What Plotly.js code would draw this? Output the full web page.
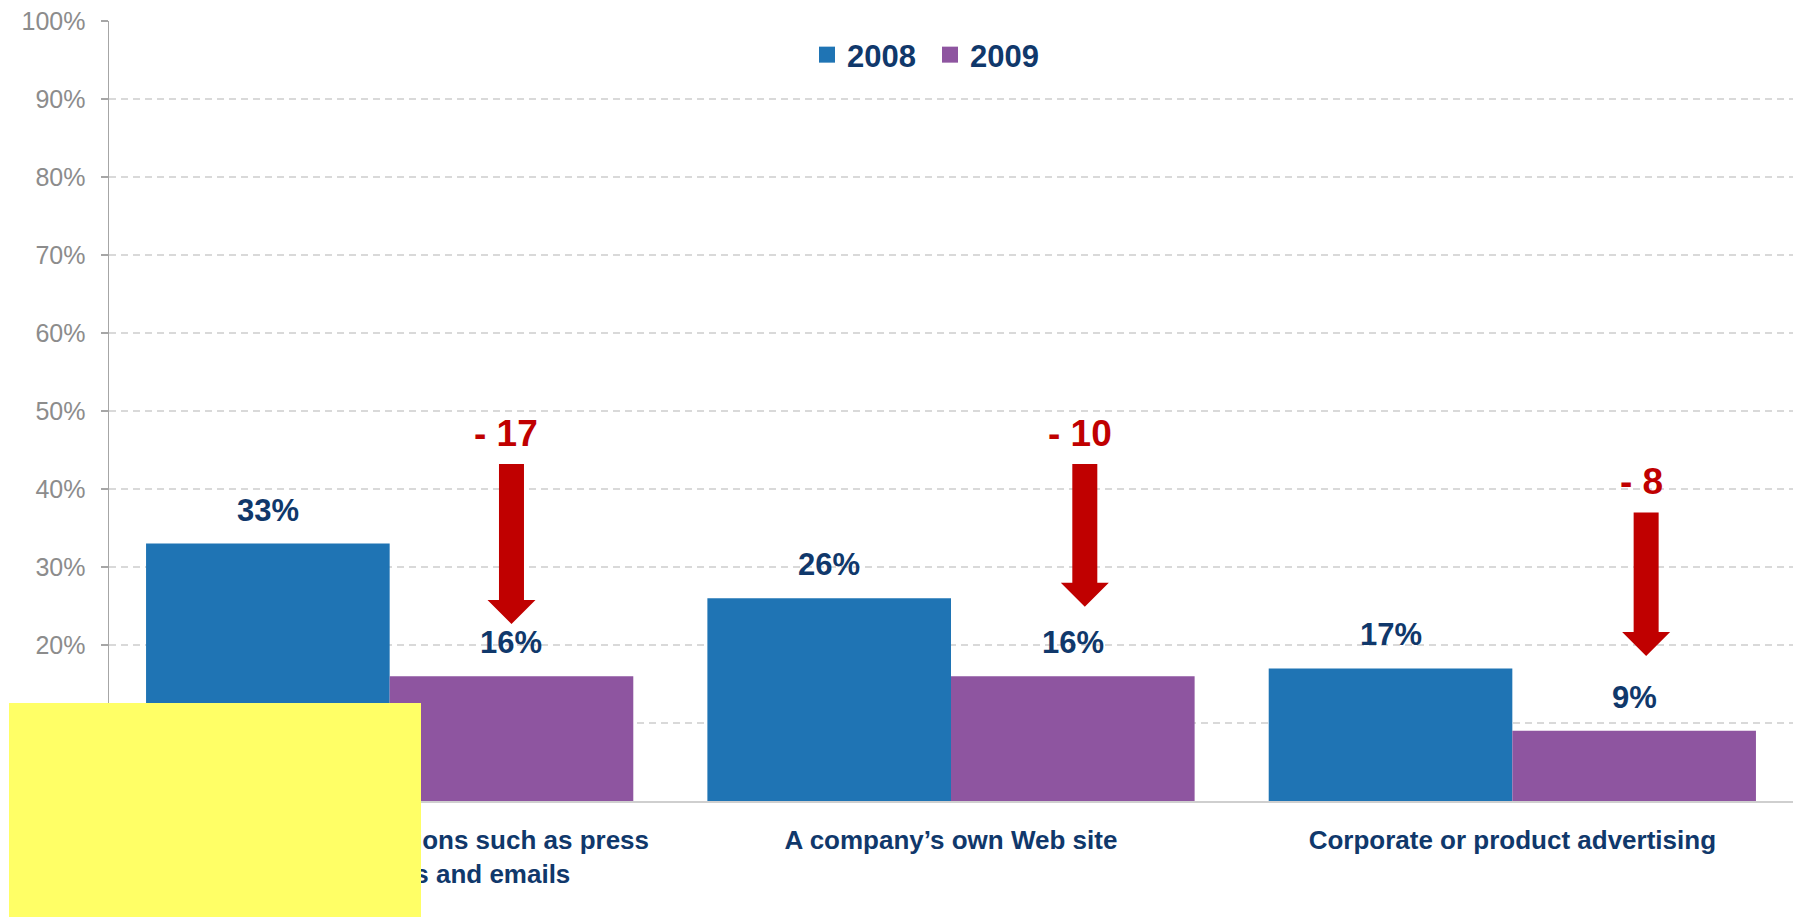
<!DOCTYPE html>
<html><head><meta charset="utf-8">
<script src="https://cdn.plot.ly/plotly-3.0.1.min.js"></script>
<style>
html,body{margin:0;padding:0;background:#fff;}
#chart{position:absolute;left:0;top:0;width:1802px;height:917px;}
#mask{position:absolute;left:9px;top:703px;width:412px;height:214px;background:#ffff66;}
</style>
</head><body>
<div id="chart"></div>
<div id="mask"></div>
<script>
// ---------- data ----------
const categories = [
  'Corporate communications such as press<br>' + '\u00a0'.repeat(16) + 'releases and emails',
  'A company\u2019s own Web site',
  'Corporate or product advertising'
];
const seriesNames = ['2008', '2009'];
const values2008 = [33, 26, 17];
const values2009 = [16, 16, 9];
const yTickValues = [0, 10, 20, 30, 40, 50, 60, 70, 80, 90, 100];
const yTickLabels = yTickValues.map(v => v + '%');

// ---------- annotation placement (in % of the y axis) ----------
const arrowTopPct = [43.2, 43.2, 37.0];
const arrowTipPct = [22.7, 24.9, 18.6];
const arrowDxPx = [0, 12, 12];

// ---------- styles / layout constants ----------
const W = 1802, H = 917;
const M = {l: 109, r: 9, t: 21, b: 116};
const FONT = 'Liberation Sans, Arial, sans-serif';
const NAVY = '#10386b';
const RED = '#c00000';
const COLORS = ['#1f74b4', '#8e55a0'];
const BARGAP = 0.132;

const plotW = W - M.l - M.r, plotH = H - M.t - M.b;
const pxPerX = plotW / categories.length;
const pxPerY = plotH / 100;
const barW = (1 - BARGAP) / 2;
const offsets = [-barW / 2, barW / 2];
const xIdx = categories.map((c, i) => i);
const series = [values2008, values2009];

const traces = series.map((vals, s) => ({
  type: 'bar', x: xIdx, y: vals, name: seriesNames[s],
  marker: {color: COLORS[s]}, showlegend: false, hoverinfo: 'skip'
}));
// legend entries
seriesNames.forEach((n, s) => traces.push({
  type: 'scatter', mode: 'markers', x: [null], y: [null], name: n,
  marker: {symbol: 'square', size: 17, color: COLORS[s]}, hoverinfo: 'skip'
}));

const annotations = [];
series.forEach((vals, s) => vals.forEach((v, i) => annotations.push({
  x: i + offsets[s], y: v, xref: 'x', yref: 'y', text: v + '%',
  showarrow: false, yanchor: 'bottom', yshift: 14,
  font: {family: FONT, size: 31, color: NAVY, weight: 'bold'}
})));

const shapes = [];
const halfShaft = 12.5 / pxPerX, halfHead = 24 / pxPerX, headLen = 24 / pxPerY;
values2009.forEach((v, i) => {
  const cx = i + offsets[1] + arrowDxPx[i] / pxPerX;
  const top = arrowTopPct[i], tip = arrowTipPct[i], hs = tip + headLen;
  const p = `M${cx - halfShaft},${top} L${cx + halfShaft},${top} L${cx + halfShaft},${hs} ` +
            `L${cx + halfHead},${hs} L${cx},${tip} L${cx - halfHead},${hs} L${cx - halfShaft},${hs} Z`;
  shapes.push({type: 'path', path: p, xref: 'x', yref: 'y', fillcolor: RED, line: {width: 0}, layer: 'above'});
  const delta = v - values2008[i];
  annotations.push({
    x: cx, y: top, xref: 'x', yref: 'y', xshift: -5, text: '- ' + Math.abs(delta),
    showarrow: false, yanchor: 'bottom', yshift: 8,
    font: {family: FONT, size: 37, color: RED, weight: 'bold'}
  });
});

const layout = {
  width: W, height: H, margin: M,
  paper_bgcolor: '#ffffff', plot_bgcolor: '#ffffff',
  font: {family: FONT},
  barmode: 'group', bargap: BARGAP, bargroupgap: 0,
  xaxis: {
    range: [-0.5, categories.length - 0.5], tickmode: 'array', tickvals: xIdx, ticktext: categories,
    showgrid: false, zeroline: false, showline: true, linecolor: '#cfcfcf', linewidth: 2,
    ticks: '', ticklabelstandoff: 15,
    tickfont: {family: FONT, size: 26, color: NAVY, weight: 'bold'}
  },
  yaxis: {
    range: [0, 100], tickmode: 'array', tickvals: yTickValues, ticktext: yTickLabels,
    showgrid: true, gridcolor: '#d9d9d9', gridwidth: 1.5, griddash: '7px,5px',
    zeroline: false, showline: true, linecolor: '#a6a6a6', linewidth: 1.5,
    ticks: 'outside', ticklen: 7, tickcolor: '#a6a6a6', tickwidth: 1.5, ticklabelstandoff: 10,
    tickfont: {family: FONT, size: 25, color: '#8c8c8c'}
  },
  showlegend: true,
  legend: {
    orientation: 'h', x: (807 - M.l) / plotW, xanchor: 'left', y: 1 - (55 - M.t) / plotH, yanchor: 'middle',
    font: {family: FONT, size: 31, color: NAVY, weight: 'bold'}, bgcolor: 'rgba(0,0,0,0)',
    entrywidth: 78, itemclick: false
  },
  annotations: annotations,
  shapes: shapes
};

Plotly.newPlot('chart', traces, layout, {staticPlot: true, displayModeBar: false});
</script>
</body></html>
